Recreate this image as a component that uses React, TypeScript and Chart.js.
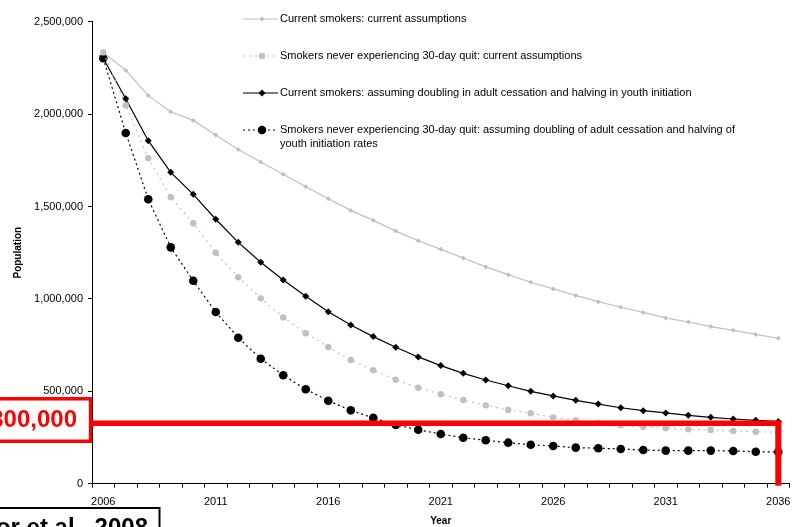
import { useEffect, useRef } from "react";
import Chart from "chart.js/auto";

const YEARS = [
  "2006", "2007", "2008", "2009", "2010", "2011", "2012", "2013", "2014", "2015", "2016",
  "2017", "2018", "2019", "2020", "2021", "2022", "2023", "2024", "2025", "2026",
  "2027", "2028", "2029", "2030", "2031", "2032", "2033", "2034", "2035", "2036",
];

// Current smokers: current assumptions
const currentSmokersCurrent = [
  2334000, 2237000, 2100000, 2013000, 1966000, 1887000, 1808000, 1741000, 1674000, 1607000, 1542000,
  1479000, 1425000, 1367000, 1315000, 1268000, 1221000, 1173000, 1131000, 1090000, 1054000,
  1019000, 985000, 955000, 927000, 897000, 875000, 850000, 830000, 808000, 787000,
];

// Smokers never experiencing 30-day quit: current assumptions
const neverQuitCurrent = [
  2334000, 2048000, 1761000, 1550000, 1409000, 1250000, 1117000, 1003000, 900000, 814000, 740000,
  669000, 614000, 563000, 519000, 484000, 453000, 424000, 399000, 381000, 359000,
  343000, 329000, 316000, 308000, 300000, 294000, 291000, 285000, 281000, 278000,
];

// Current smokers: doubling cessation, halving initiation
const currentSmokersPolicy = [
  2302000, 2083000, 1856000, 1685000, 1566000, 1431000, 1306000, 1198000, 1102000, 1014000, 931000,
  859000, 796000, 738000, 686000, 639000, 597000, 561000, 530000, 500000, 475000,
  451000, 431000, 411000, 395000, 383000, 370000, 359000, 350000, 343000, 336000,
];

// Never 30-day quit: doubling cessation, halving initiation
const neverQuitPolicy = [
  2302000, 1898000, 1539000, 1279000, 1098000, 929000, 790000, 676000, 587000, 511000, 449000,
  397000, 356000, 318000, 292000, 269000, 249000, 235000, 222000, 211000, 204000,
  195000, 192000, 188000, 182000, 179000, 179000, 179000, 177000, 173000, 172000,
];

const LEGEND_LINES = [
  ["Current smokers: current assumptions"],
  ["Smokers never experiencing 30-day quit: current assumptions"],
  ["Current smokers: assuming doubling in adult cessation and halving in youth initiation"],
  [
    "Smokers never experiencing 30-day quit: assuming doubling of adult cessation and halving of",
    "youth initiation rates",
  ],
];

const THRESHOLD = 327000;
const THRESHOLD_LABEL = "300,000";
const SOURCE_LABEL = "or et al., 2008";

const FONT = "'Liberation Sans', Arial, sans-serif";

function drawMarker(ctx: CanvasRenderingContext2D, style: string, x: number, y: number, r: number, color: string) {
  ctx.fillStyle = color;
  ctx.beginPath();
  if (style === "rectRot") {
    ctx.moveTo(x, y - r);
    ctx.lineTo(x + r, y);
    ctx.lineTo(x, y + r);
    ctx.lineTo(x - r, y);
    ctx.closePath();
  } else {
    ctx.arc(x, y, r, 0, Math.PI * 2);
  }
  ctx.fill();
}

const legendPlugin = {
  id: "stackedLegend",
  afterDraw(chart: any) {
    const { ctx } = chart;
    const rows = [19, 56, 93, 130];
    chart.data.datasets.forEach((ds: any, i: number) => {
      const y = rows[i];
      ctx.save();
      ctx.strokeStyle = ds.borderColor;
      ctx.lineWidth = ds.borderWidth;
      ctx.setLineDash(ds.borderDash || []);
      ctx.beginPath();
      ctx.moveTo(243, y);
      ctx.lineTo(278, y);
      ctx.stroke();
      ctx.setLineDash([]);
      drawMarker(ctx, ds.pointStyle, 262, y, ds.pointRadius, ds.pointBackgroundColor);
      ctx.fillStyle = "#000";
      ctx.font = `11px ${FONT}`;
      ctx.textBaseline = "middle";
      LEGEND_LINES[i].forEach((t, k) => ctx.fillText(t, 280, y + k * 13.5));
      ctx.restore();
    });
  },
};

const overlayPlugin = {
  id: "overlay",
  afterDraw(chart: any) {
    const { ctx, chartArea } = chart;
    const xs = chart.scales.x;
    const ys = chart.scales.y;
    const ly = ys.getPixelForValue(THRESHOLD);
    const lx = xs.getPixelForValue(YEARS.length - 1);
    ctx.save();
    // threshold line and drop line
    ctx.strokeStyle = "#ff0000";
    ctx.lineWidth = 5.5;
    ctx.beginPath();
    ctx.moveTo(chartArea.left - 3, ly);
    ctx.lineTo(lx + 3, ly);
    ctx.stroke();
    ctx.lineWidth = 6;
    ctx.beginPath();
    ctx.moveTo(lx, ly - 2.75);
    ctx.lineTo(lx, chartArea.bottom + 2);
    ctx.stroke();
    // label box
    ctx.fillStyle = "#fff";
    ctx.fillRect(-10, ly - 25, 100, 43);
    ctx.lineWidth = 3.5;
    ctx.strokeRect(-10, ly - 24.5, 100.5, 42.5);
    ctx.fillStyle = "#ff0000";
    ctx.font = `bold 24px ${FONT}`;
    ctx.textAlign = "right";
    ctx.textBaseline = "middle";
    ctx.fillText(THRESHOLD_LABEL, 77, ly - 3);
    // source box
    ctx.fillStyle = "#fff";
    ctx.fillRect(-10, 508, 170, 30);
    ctx.strokeStyle = "#000";
    ctx.lineWidth = 2;
    ctx.strokeRect(-10, 508, 169.5, 30);
    ctx.fillStyle = "#000";
    ctx.font = `bold 24px ${FONT}`;
    ctx.textAlign = "right";
    ctx.textBaseline = "alphabetic";
    ctx.fillText(SOURCE_LABEL, 148, 535);
    ctx.restore();
  },
};

export default function App() {
  const canvasRef = useRef<HTMLCanvasElement>(null);

  useEffect(() => {
    if (!canvasRef.current) return;
    Chart.defaults.font.family = FONT;
    Chart.defaults.color = "#000";

    const chart = new Chart(canvasRef.current, {
      type: "line",
      data: {
        labels: YEARS,
        datasets: [
          {
            label: LEGEND_LINES[0].join(" "),
            data: currentSmokersCurrent,
            borderColor: "#c0c0c0",
            backgroundColor: "#c0c0c0",
            pointBackgroundColor: "#c0c0c0",
            borderWidth: 1.2,
            pointStyle: "rectRot",
            pointRadius: 2.5,
            pointBorderWidth: 0,
            tension: 0,
          },
          {
            label: LEGEND_LINES[1].join(" "),
            data: neverQuitCurrent,
            borderColor: "#c0c0c0",
            backgroundColor: "#c0c0c0",
            pointBackgroundColor: "#c0c0c0",
            borderWidth: 1.2,
            borderDash: [2, 4],
            pointStyle: "circle",
            pointRadius: 3.2,
            pointBorderWidth: 0,
            tension: 0,
          },
          {
            label: LEGEND_LINES[2].join(" "),
            data: currentSmokersPolicy,
            borderColor: "#000",
            backgroundColor: "#000",
            pointBackgroundColor: "#000",
            borderWidth: 1.2,
            pointStyle: "rectRot",
            pointRadius: 3.5,
            pointBorderWidth: 0,
            tension: 0,
          },
          {
            label: LEGEND_LINES[3].join(" "),
            data: neverQuitPolicy,
            borderColor: "#000",
            backgroundColor: "#000",
            pointBackgroundColor: "#000",
            borderWidth: 1.2,
            borderDash: [2, 3],
            pointStyle: "circle",
            pointRadius: 4.3,
            pointBorderWidth: 0,
            tension: 0,
          },
        ],
      },
      options: {
        responsive: true,
        maintainAspectRatio: false,
        animation: false,
        layout: { autoPadding: false, padding: { top: 21.7, right: 2.5, left: 0, bottom: 0 } },
        plugins: {
          legend: { display: false },
          tooltip: { enabled: false },
        },
        scales: {
          x: {
            type: "category",
            offset: true,
            grid: { offset: true, drawOnChartArea: false, tickLength: 4, color: "#000" },
            border: { color: "#000", width: 1 },
            ticks: {
              autoSkip: false,
              maxRotation: 0,
              padding: 8,
              font: { size: 11 },
              callback: (_v: any, i: number) => (i % 5 === 0 ? YEARS[i] : ""),
            },
            title: { display: true, text: "Year", font: { size: 10, weight: "bold" }, padding: { top: 0, bottom: 0 } },
            afterFit: (s: any) => {
              s.height = 43.3;
              s.paddingLeft = 0;
              s.paddingRight = 0;
            },
          },
          y: {
            min: 0,
            max: 2500000,
            grid: { drawOnChartArea: false, tickLength: 4, color: "#000" },
            border: { color: "#000", width: 1 },
            ticks: {
              stepSize: 500000,
              padding: 5,
              font: { size: 11 },
              callback: (v: any) => Number(v).toLocaleString("en-US"),
            },
            title: { display: true, text: "Population", font: { size: 10, weight: "bold" }, padding: { top: 12, bottom: 0 } },
            afterFit: (s: any) => {
              s.width = 92;
            },
          },
        },
      },
      plugins: [legendPlugin, overlayPlugin],
    });

    return () => chart.destroy();
  }, []);

  return (
    <div style={{ position: "fixed", left: 0, top: 0, width: 792, height: 527, background: "#fff" }}>
      <canvas ref={canvasRef} />
    </div>
  );
}
